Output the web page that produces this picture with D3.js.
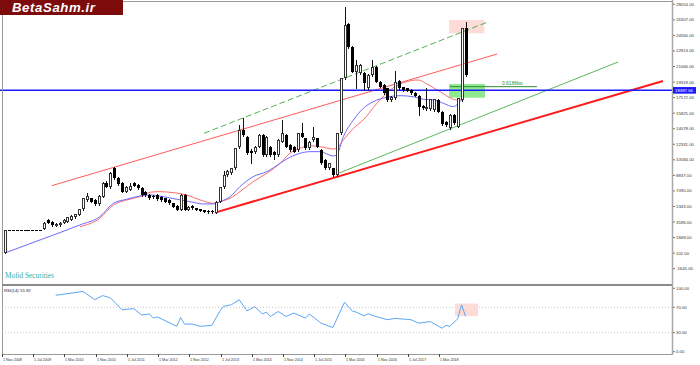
<!DOCTYPE html>
<html><head><meta charset="utf-8">
<script src="https://cdn.jsdelivr.net/npm/d3@7"></script>
<style>html,body{margin:0;padding:0;background:#fff;overflow:hidden}svg{display:block}</style>
</head><body>
<svg id="c" width="700" height="365"></svg>
<script>
// ---- monthly candles, Nov 2008 .. Sep 2018 ----
const openV = [88, 2708,2708,2708,2708,2708,2708,2708,2708,2708,
 2783,3831,3644,3160,3270,3532,3644,3831,4131,4393,5030,
 6079,6266,6079,5629,6453,8024,7501,9634,8511,8024,
 7014,7201,8024,7762,7463,6950,6639,6527,6639,6400,
 6265,6078,5704,5404,4955,6639,4955,5404,5142,5030,
 4955,4880,4850,4656,5891,7500,8885,9072,9634,12067,
 13938,13190,11600,11505,12067,13377,11131,12067,11505,11131,
 12628,13377,12254,12067,11693,13564,13003,11880,12815,13003,
 11693,10570,9634,9634,8885,13565,19741,25842,23297,20489,
 20302,20302,18618,20115,21051,19366,18992,18618,17308,17495,
 19441,18730,18618,18431,18131,17794,16660,16260,16260,16185,
 17308,15998,14875,14126,15623,14313,17308,25355];
const highV = [2708, 2708,2708,2708,2708,2708,2708,2708,2708,2708,
 3650,3950,3700,3450,3600,3900,4200,4350,4550,5100,6350,
 6827,6350,6150,6600,8050,8150,9250,9822,8600,8100,
 7650,7950,8100,7850,7550,7050,6750,6600,6720,6480,
 6330,6150,5780,5480,6800,6700,5400,5480,5200,5100,
 5000,4950,4900,5950,7550,9372,9450,9700,11950,14500,
 15248,13300,11800,12150,13450,13450,13300,12150,11600,12900,
 15061,13450,12330,12150,13650,14687,13080,12700,14313,13080,
 11770,10650,10270,9700,13650,19820,27788,25950,23380,21800,
 21400,20400,20200,21800,21150,19450,19070,18700,17760,20602,
 19520,18810,18700,18510,18210,17870,16740,18618,17460,17460,
 17380,16070,14950,15700,15700,17570,25430,26104];
const lowV = [88, 2708,2708,2708,2708,2708,2708,2708,2708,2708,
 2783,3500,3200,3100,3200,3450,3600,3780,4080,4350,4980,
 5950,5800,5550,5550,6400,7500,7450,8400,7750,6950,
 6950,7150,7600,7300,6550,6550,6200,6300,6100,6000,
 5800,5650,5250,4900,4900,4900,4900,5080,4900,4820,
 4700,4640,4581,4581,5850,7450,8800,9000,9580,11900,
 13300,11250,10195,11400,12000,11050,11050,11050,10644,11050,
 12550,12000,11600,11430,11600,13100,11800,11800,12750,12000,
 10100,9550,9550,8800,8800,13500,19650,23200,20400,18618,
 20200,18431,18550,20050,19300,18730,17980,17230,17230,17420,
 18550,18360,18280,17980,17720,15623,16300,16180,16180,16100,
 15920,14540,14420,14050,14600,14240,17230,20040];
const closeV = [2708, 2708,2708,2708,2708,2708,2708,2708,2708,2708,
 3532,3532,3270,3380,3532,3831,4131,4281,4468,5030,6266,
 6500,5891,5629,6528,7950,7575,9148,8511,7837,7014,
 7575,7700,7651,7388,6640,6640,6265,6377,6153,6078,
 5891,5704,5329,4955,6639,4955,5329,5142,4955,4880,
 4768,4693,4693,5891,7500,8885,9372,9634,11880,13938,
 13377,11318,11300,12067,13377,11131,13190,11131,11131,12815,
 13564,12067,11693,11505,13564,13190,11880,12628,13190,12067,
 10195,9634,10195,8885,13564,19741,25730,23297,20489,21238,
 21238,19179,20115,21051,19366,18805,18056,17308,17682,19366,
 18618,18431,18356,18056,17794,16559,16372,16559,17383,17383,
 15998,14613,14501,15623,14688,17495,25355,20115];

// moving averages: [bar, value]
const maBlue = [[0,125],[9,1590],[19.2,3270],[24.3,4201],[27.8,5706],[31.2,6155],[34.6,6526],[37.2,6638],[40.6,6448],[44,6155],[47.4,5886],[50.8,5628],[53.4,5628],[55.1,5886],[57.7,6448],[60.2,7571],[63.6,8694],[67.1,9256],[70.5,10198],[73,10872],[75.6,11322],[78.2,11502],[80.7,11502],[84.1,11018],[85,11130],[86.7,13186],[89.3,15061],[91.8,16375],[94.4,17116],[97.8,17610],[101.2,17790],[104.6,17678],[107.2,17385],[109.8,17307],[112.3,16936],[114.9,16555],[116.2,16936],[117.5,17610]];
const maRed = [[19.2,3079],[24.3,4022],[27.8,5515],[31.2,6077],[34.6,6448],[37.2,6943],[39.7,7010],[43.1,6897],[46.6,6638],[50,6077],[53.4,5706],[55.1,5886],[57.7,6268],[60.2,7010],[63.6,8132],[67.1,9075],[70.5,10198],[73,11322],[75.6,11883],[78.2,12175],[80.7,12063],[84.1,11804],[85,11883],[86.7,12815],[89.3,14129],[91.8,15061],[95.3,16936],[98.7,18430],[102.9,19362],[105.9,19553],[108.1,19104],[111.5,18239],[115.8,17307],[117.5,17498]];

// RSI(14): [bar, value]
const rsiV = [[13,89],[20,95],[23,82],[25,88.5],[27,85],[30,66],[33,68],[35,58],[37,59.5],[38,53],[39,55],[44,40],[45,54],[46,43.5],[48,43.5],[50,40],[53,41.5],[55,63.5],[56,71.5],[58,74],[60,82],[62,64.5],[64,71],[66,59.5],[67,62.5],[68,55.5],[70,63.5],[72,55.5],[74,61],[77,53],[78,59.5],[81,45],[84,38],[87,78],[89,64],[90,62.5],[92,56.5],[93,60],[95,55.5],[98,50.5],[100,52.5],[101,52],[104,50.5],[106,45],[109,47.5],[112,37],[113,41.5],[114,40],[116,52],[117,74],[118,55.92]];

const priceTicks = [28054,26307,24560,22813,21066,19319,17572,15825,14078,12331,10584,8837,7090,5343,3596,1849,102,-1645];
const rsiTicks = [100,70,30,0];
const dateLabels = ["1 Nov 2008","1 Jul 2009","1 Mar 2010","1 Nov 2010","1 Jul 2011","1 Mar 2012","1 Nov 2012","1 Jul 2013","1 Mar 2014","1 Nov 2014","1 Jul 2015","1 Mar 2016","1 Nov 2016","1 Jul 2017","1 Mar 2018"];
const barsPerLabel = 8;

// annotations: [bar, price]
const thickRed = [[53.8,4651],[168.6,19441]];
const thinRed = [[12,7683],[126.1,22473]];
const greenDash = [[51,13567],[123.9,26100]];
const greenLine = [[85,8997],[157.1,21574]];
const hLinePrice = 18387.66;
const fibo = {from:114, to:136.3, price:18801, label:"0.618fibo"};
const greenBox = {x0:113.8, x1:123, p0:19104, p1:17565};
const pinkBox = {x0:113.8, x1:122.8, p0:26291, p1:24798};
const rsiBox = {x0:115.3, x1:121.2, v0:76, v1:56};

// ---- drawing ----
const svg = d3.select("#c");
const FONT = "Liberation Sans, Arial, sans-serif";
const AX = 672, MAIN_B = 285, RSI_T = 287, XAX = 354;
const x = d3.scaleLinear().domain([0,118]).range([5,465.5]);
const y = d3.scaleLinear().domain([-1645,28054]).range([268.7,4.3]);
const yr = d3.scaleLinear().domain([0,100]).range([351.7,288.3]);

svg.append("rect").attr("width",700).attr("height",365).attr("fill","#fff");
svg.append("defs").append("clipPath").attr("id","mc").append("rect").attr("x",0).attr("y",0).attr("width",AX).attr("height",MAIN_B);
svg.select("defs").append("clipPath").attr("id","rc").append("rect").attr("x",0).attr("y",RSI_T).attr("width",AX).attr("height",XAX-RSI_T);

const main = svg.append("g").attr("clip-path","url(#mc)");

// boxes
main.append("rect").attr("x",x(pinkBox.x0)).attr("y",y(pinkBox.p0)).attr("width",x(pinkBox.x1)-x(pinkBox.x0)).attr("height",y(pinkBox.p1)-y(pinkBox.p0)).attr("fill","#fddcd8");
main.append("rect").attr("x",x(greenBox.x0)).attr("y",y(greenBox.p0)).attr("width",x(greenBox.x1)-x(greenBox.x0)).attr("height",y(greenBox.p1)-y(greenBox.p0)).attr("fill","#8fe98f");

// trend lines
function seg(pts, color, w, dash){
  const l = main.append("line").attr("x1",x(pts[0][0])).attr("y1",y(pts[0][1])).attr("x2",x(pts[1][0])).attr("y2",y(pts[1][1])).attr("stroke",color).attr("stroke-width",w);
  if(dash) l.attr("stroke-dasharray",dash);
}
seg(thinRed,"#ff5a5a",1);
seg(greenDash,"#55b055",1,"6,3");
seg(greenLine,"#5cb85c",1);
seg(thickRed,"#ff1a1a",2);

// MAs
const ln = d3.line().x(d=>x(d[0])).y(d=>y(d[1])).curve(d3.curveMonotoneX);
main.append("path").attr("d",ln(maRed)).attr("fill","none").attr("stroke","#ff6a6a").attr("stroke-width",1);
main.append("path").attr("d",ln(maBlue)).attr("fill","none").attr("stroke","#6a6aff").attr("stroke-width",1);

// horizontal blue line
main.append("line").attr("x1",0).attr("x2",AX).attr("y1",y(hLinePrice)).attr("y2",y(hLinePrice)).attr("stroke","#1a1aff").attr("stroke-width",1.5);

// fibo
main.append("line").attr("x1",x(fibo.from)).attr("x2",x(fibo.to)).attr("y1",y(fibo.price)).attr("y2",y(fibo.price)).attr("stroke","#2e8b2e").attr("stroke-width",1);
main.append("text").attr("x",x(fibo.to)-35).attr("y",y(fibo.price)-1.3).attr("font-family",FONT).attr("font-size",5).attr("fill","#2e8b2e").text(fibo.label);

// candles
const candles = d3.range(openV.length).map(i=>({i,o:openV[i],h:highV[i],l:lowV[i],c:closeV[i]}));
const cg = main.append("g");
candles.forEach(d=>{
  const cx = Math.round(x(d.i));
  cg.append("line").attr("x1",cx+0.5).attr("x2",cx+0.5).attr("y1",Math.round(y(d.h))).attr("y2",Math.round(y(d.l))+1).attr("stroke","#111").attr("stroke-width",1);
  const top = Math.round(y(Math.max(d.o,d.c))), bot = Math.round(y(Math.min(d.o,d.c)));
  const h = Math.max(1, bot-top);
  if(d.c > d.o && h>=2){
    cg.append("rect").attr("x",cx-0.5).attr("y",top+0.5).attr("width",2).attr("height",h-1).attr("fill","#fff").attr("stroke","#333").attr("stroke-width",1);
  } else {
    cg.append("rect").attr("x",cx-1).attr("y",top).attr("width",3).attr("height",h).attr("fill","#000");
  }
});

// Mofid text
svg.append("text").attr("x",5).attr("y",278).attr("font-family","Liberation Serif, Times New Roman, serif").attr("font-size",7.3).attr("fill","#3aada3").text("Mofid Securities");

// RSI panel
svg.append("line").attr("x1",2).attr("x2",AX).attr("y1",yr(70)).attr("y2",yr(70)).attr("stroke","#c8c8c8").attr("stroke-dasharray","1,2");
svg.append("line").attr("x1",2).attr("x2",AX).attr("y1",yr(30)).attr("y2",yr(30)).attr("stroke","#c8c8c8").attr("stroke-dasharray","1,2");
const rg = svg.append("g").attr("clip-path","url(#rc)");
rg.append("rect").attr("x",x(rsiBox.x0)).attr("y",yr(rsiBox.v0)).attr("width",x(rsiBox.x1)-x(rsiBox.x0)).attr("height",yr(rsiBox.v1)-yr(rsiBox.v0)).attr("fill","#fddcd8");
rg.append("path").attr("d",d3.line().x(d=>x(d[0])).y(d=>yr(d[1]))(rsiV)).attr("fill","none").attr("stroke","#5aa8f5").attr("stroke-width",1);
svg.append("text").attr("x",4).attr("y",292).attr("font-family",FONT).attr("font-size",4.3).attr("fill","#222").text("RSI(14) "+rsiV[rsiV.length-1][1].toFixed(2));

// frame
const fr = svg.append("g").attr("fill","none");
fr.append("line").attr("x1",2.5).attr("x2",2.5).attr("y1",0).attr("y2",XAX).attr("stroke","#9a9a9a");
fr.append("line").attr("x1",0).attr("x2",AX).attr("y1",1.5).attr("y2",1.5).attr("stroke","#9a9a9a");
fr.append("line").attr("x1",2).attr("x2",AX).attr("y1",MAIN_B).attr("y2",MAIN_B).attr("stroke","#8a8a8a").attr("stroke-width",2);
fr.append("line").attr("x1",2).attr("x2",AX).attr("y1",XAX+0.5).attr("y2",XAX+0.5).attr("stroke","#9a9a9a");
fr.append("line").attr("x1",AX+0.5).attr("x2",AX+0.5).attr("y1",0).attr("y2",XAX+1).attr("stroke","#a8a8a8").attr("stroke-width",1.5);

// price axis
const pa = svg.append("g");
priceTicks.forEach(v=>{
  const yy = y(v);
  pa.append("line").attr("x1",AX+1).attr("x2",AX+3).attr("y1",yy).attr("y2",yy).attr("stroke","#444").attr("stroke-width",0.7);
  pa.append("text").attr("x",AX+4).attr("y",yy+1.5).attr("font-family",FONT).attr("font-size",4.3).attr("fill","#333").text(v.toFixed(2));
});
// current line label
pa.append("rect").attr("x",AX+1).attr("y",y(hLinePrice)-3.3).attr("width",23).attr("height",6.6).attr("fill","#1a1aff");
pa.append("text").attr("x",AX+3).attr("y",y(hLinePrice)+1.5).attr("font-family",FONT).attr("font-size",4.3).attr("fill","#fff").text(hLinePrice.toFixed(2));

// rsi axis
rsiTicks.forEach(v=>{
  const yy = yr(v);
  pa.append("line").attr("x1",AX+1).attr("x2",AX+3).attr("y1",yy).attr("y2",yy).attr("stroke","#444").attr("stroke-width",0.7);
  pa.append("text").attr("x",AX+4).attr("y",yy+1.5).attr("font-family",FONT).attr("font-size",4.3).attr("fill","#333").text(v.toFixed(2));
});

// time axis
dateLabels.forEach((lab,k)=>{
  const tx = Math.round(x(k*barsPerLabel)) - 3 + 0.5;
  pa.append("line").attr("x1",tx).attr("x2",tx).attr("y1",XAX).attr("y2",XAX+3).attr("stroke","#444").attr("stroke-width",1);
  pa.append("text").attr("x",tx+0.5).attr("y",361).attr("font-family",FONT).attr("font-size",3.7).attr("fill","#333").text(lab);
});

// logo
const lg = svg.append("g");
lg.append("rect").attr("x",0).attr("y",0).attr("width",123).attr("height",15).attr("fill","#7d0b0b");
lg.append("text").attr("x",12).attr("y",11.8).attr("font-family",FONT).attr("font-size",13.2).attr("font-weight","bold").attr("font-style","italic").attr("letter-spacing",0.6).attr("fill","#fff").text("BetaSahm.ir");
</script>
</body></html>
